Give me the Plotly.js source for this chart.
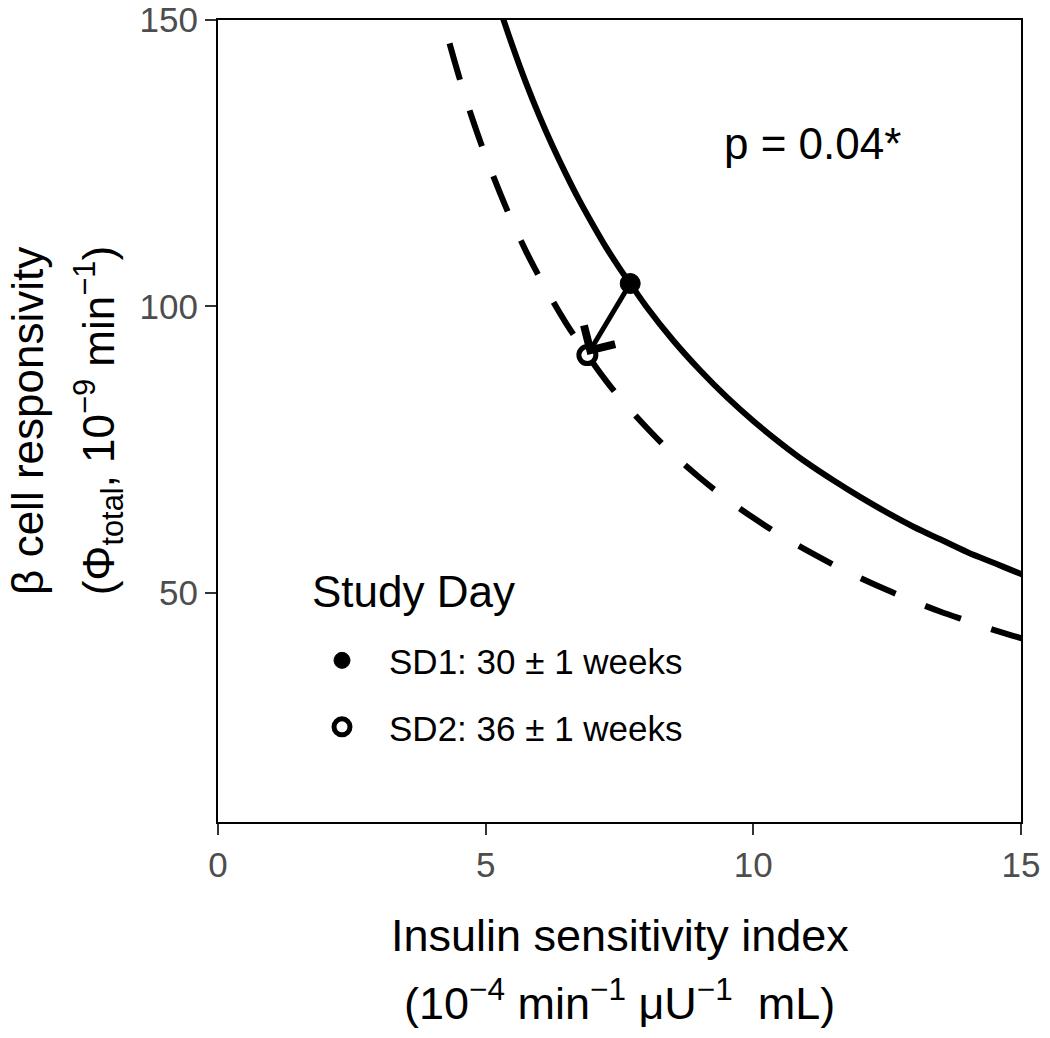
<!DOCTYPE html>
<html>
<head>
<meta charset="utf-8">
<script src="https://cdn.plot.ly/plotly-3.0.1.min.js"></script>
<style>
  body { margin: 0; background: #fff; }
  #chart { width: 1050px; height: 1038px; }
</style>
</head>
<body>
<div id="chart"></div>
<script>
// hyperbolic fits (SD1 solid, SD2 dashed)
var sd1CurveX = [5.0, 5.25, 5.5, 5.75, 6.0, 6.25, 6.5, 6.75, 7.0, 7.25, 7.5, 7.7, 8.0, 8.5, 9.0, 9.5, 10.0,
                 10.5, 11.0, 11.5, 12.0, 12.5, 13.0, 13.5, 14.0, 14.5, 15.0, 15.5];
var sd1CurveY = [160, 152.4, 145.5, 139.1, 133.3, 128, 123.1, 118.5, 114.3, 110.3, 106.7, 104, 100, 94.1, 88.9, 84.2, 80,
                 76.2, 72.7, 69.6, 66.7, 64, 61.5, 59.3, 57.1, 55.2, 53.3, 51.6];
var sd2CurveX = [4.0, 4.25, 4.5, 4.75, 5.0, 5.25, 5.5, 5.75, 6.0, 6.25, 6.5, 6.9, 7.25, 7.5, 8.0, 8.5, 9.0,
                 9.5, 10.0, 10.5, 11.0, 11.5, 12.0, 12.5, 13.0, 13.5, 14.0, 14.5, 15.0, 15.5];
var sd2CurveY = [157.8, 148.5, 140.2, 132.8, 126.2, 120.2, 114.7, 109.7, 105.2, 101, 97.1, 91.5, 87, 84.1, 78.9, 74.2, 70.1,
                 66.4, 63.1, 60.1, 57.4, 54.9, 52.6, 50.5, 48.5, 46.7, 45.1, 43.5, 42.1, 40.7];

// mean points
var studyDays = ['SD1: 30 \u00b1 1 weeks', 'SD2: 36 \u00b1 1 weeks'];
var meanSI = [7.7, 6.9];
var meanPhi = [104, 91.5];

var xTicks = [0, 5, 10, 15];
var yTicks = [50, 100, 150];

var font = 'Liberation Sans, Arial, sans-serif';

var data = [
  {
    x: sd1CurveX, y: sd1CurveY, mode: 'lines', type: 'scatter',
    line: {color: '#000', width: 6, shape: 'spline'},
    showlegend: false, hoverinfo: 'skip'
  },
  {
    x: sd2CurveX, y: sd2CurveY, mode: 'lines', type: 'scatter',
    line: {color: '#000', width: 6, shape: 'spline', dash: '38px,32px'},
    showlegend: false, hoverinfo: 'skip'
  },
  {
    x: [meanSI[0]], y: [meanPhi[0]], name: studyDays[0],
    mode: 'markers', type: 'scatter', legendgroup: 'a',
    marker: {color: '#000', size: 20, line: {color: '#000', width: 1}}
  },
  {
    x: [meanSI[1]], y: [meanPhi[1]], name: studyDays[1],
    mode: 'markers', type: 'scatter', legendgroup: 'b',
    marker: {color: '#fff', size: 17, line: {color: '#000', width: 5}}
  }
];

var layout = {
  width: 1050,
  height: 1038,
  margin: {l: 218, r: 29, t: 20, b: 216},
  paper_bgcolor: '#fff',
  plot_bgcolor: '#fff',
  font: {family: font, color: '#000'},
  xaxis: {
    range: [0, 15], tickvals: xTicks, showgrid: false, zeroline: false,
    showline: true, mirror: true, linecolor: '#000', linewidth: 2,
    ticks: 'outside', ticklen: 11, tickwidth: 2, tickcolor: '#333',
    tickfont: {size: 35, color: '#4d4d4d', family: font}
  },
  yaxis: {
    range: [10, 150], tickvals: yTicks, showgrid: false, zeroline: false,
    showline: true, mirror: true, linecolor: '#000', linewidth: 2,
    ticks: 'outside', ticklen: 11, tickwidth: 2, tickcolor: '#333',
    tickfont: {size: 35, color: '#4d4d4d', family: font}
  },
  showlegend: true,
  legend: {
    x: 0.0959, y: 0.238, xanchor: 'left', yanchor: 'top',
    bgcolor: 'rgba(0,0,0,0)',
    font: {size: 35, family: font, color: '#000'},
    itemwidth: 84,
    tracegroupgap: 18
  },
  annotations: [
    {
      x: meanSI[1], y: meanPhi[1], ax: meanSI[0], ay: meanPhi[0],
      xref: 'x', yref: 'y', axref: 'x', ayref: 'y',
      showarrow: true, arrowhead: 4, arrowsize: 1.4, arrowwidth: 5,
      arrowcolor: '#000', standoff: 0, text: ''
    },
    {
      x: 11.1, y: 128.5, xref: 'x', yref: 'y', showarrow: false,
      text: 'p = 0.04*', font: {size: 44, family: font, color: '#000'}
    },
    {
      x: 0.1146, y: 0.2868, xref: 'paper', yref: 'paper', showarrow: false,
      xanchor: 'left', yanchor: 'middle',
      text: 'Study Day', font: {size: 44, family: font, color: '#000'}
    },
    {
      x: 0.5, y: -0.141, xref: 'paper', yref: 'paper', showarrow: false,
      xanchor: 'center', yanchor: 'middle',
      text: 'Insulin sensitivity index', font: {size: 45, family: font, color: '#000'}
    },
    {
      x: 0.5, y: -0.222, xref: 'paper', yref: 'paper', showarrow: false,
      xanchor: 'center', yanchor: 'middle',
      text: '(10<sup>\u22124</sup> min<sup>\u22121</sup> \u03bcU<sup>\u22121</sup>  mL)',
      font: {size: 45, family: font, color: '#000'}
    },
    {
      x: -0.238, y: 0.5, xref: 'paper', yref: 'paper', showarrow: false,
      xanchor: 'center', yanchor: 'middle', textangle: -90,
      text: '\u03b2 cell responsivity', font: {size: 44, family: font, color: '#000'}
    },
    {
      x: -0.149, y: 0.5, xref: 'paper', yref: 'paper', showarrow: false,
      xanchor: 'center', yanchor: 'middle', textangle: -90,
      text: '(\u03a6<sub>total</sub>, 10<sup>\u22129</sup> min<sup>\u22121</sup>)',
      font: {size: 44, family: font, color: '#000'}
    }
  ]
};

Plotly.newPlot('chart', data, layout, {staticPlot: true});
</script>
</body>
</html>
